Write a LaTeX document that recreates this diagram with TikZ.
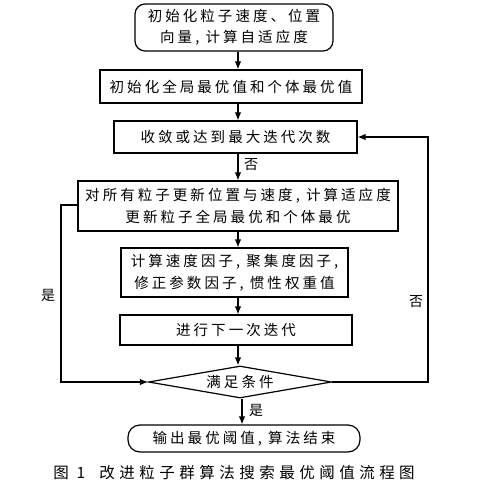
\documentclass[tikz,border=0pt]{standalone}
\usepackage{fontspec}
\setmainfont{Noto Sans CJK SC}[LetterSpace=21]
\newfontfamily\capfont{Noto Sans CJK SC}[LetterSpace=29]
\usetikzlibrary{shapes.geometric,arrows.meta}
\begin{document}
\begin{tikzpicture}[x=1pt,y=-1pt,
  every node/.style={font=\fontsize{14.5pt}{21pt}\selectfont},
  box/.style={draw,line width=1.2pt,align=center,inner sep=0pt},
  rbox/.style={box,rounded corners=10pt},
  arr/.style={line width=1.2pt,-{Latex[length=8pt,width=6.5pt]}},
  lbl/.style={font=\fontsize{14pt}{15pt}\selectfont,inner sep=0pt}]
\useasboundingbox[fill=white] (0,0) rectangle (483,492);
\coordinate (mx) at (238,0);
\node[rbox,minimum width=198pt,minimum height=47pt] (b1) at (234,27.5) {初始化粒子速度、位置\\向量, 计算自适应度};
\node[box,minimum width=262pt,minimum height=33pt] (b2) at (231,86.5) {初始化全局最优值和个体最优值};
\node[box,minimum width=243pt,minimum height=32pt] (b3) at (235.5,137) {收敛或达到最大迭代次数};
\node[box,minimum width=320pt,minimum height=50pt,font=\fontsize{14.5pt}{22pt}\selectfont] (b4) at (238,206) {对所有粒子更新位置与速度, 计算适应度\\更新粒子全局最优和个体最优};
\node[box,minimum width=227pt,minimum height=49pt,font=\fontsize{14.5pt}{22pt}\selectfont] (b5) at (234.5,272.5) {计算速度因子, 聚集度因子,\\修正参数因子, 惯性权重值};
\node[box,minimum width=232pt,minimum height=30pt] (b6) at (236,330) {进行下一次迭代};
\node[draw,line width=1.2pt,diamond,aspect=5.7,inner sep=0pt,minimum width=183pt,minimum height=32pt] (d) at (240,382) {满足条件};
\node[rbox,rounded corners=12pt,minimum width=232pt,minimum height=27pt] (e) at (244,438.5) {输出最优阈值, 算法结束};
\node[font=\capfont\fontsize{15.5pt}{17pt}\selectfont,inner sep=0pt] (cap) at (234,473) {图 1\hspace{14pt}改进粒子群算法搜索最优阈值流程图};
% main arrows
\draw[arr] (b1.south -| mx) -- (b2.north -| mx);
\draw[arr] (b2.south -| mx) -- (b3.north -| mx);
\draw[arr] (b3.south -| mx) -- (b4.north -| mx);
\draw[arr] (b4.south -| mx) -- (b5.north -| mx);
\draw[arr] (b5.south -| mx) -- (b6.north -| mx);
\draw[arr] (b6.south -| mx) -- (d.north -| mx);
\coordinate (mx2) at (242,0);
\draw[arr] (d.south -| mx2) -- (e.north -| mx2);
% loops
\coordinate (lx) at (61,0);
\coordinate (rx) at (428,0);
\coordinate (ly) at (0,205);
\draw[arr] (b4.west |- ly) -- (lx |- ly) -- (lx |- d.west) -- (d.west);
\draw[arr] (d.east) -- (rx |- d.east) -- (rx |- b3.east) -- (b3.east);
% labels
\node[lbl] (n1) at (251,165) {否};
\node[lbl] (y1) at (48,295) {是};
\node[lbl] (n2) at (416,302) {否};
\node[lbl] (y2) at (256,410) {是};
\end{tikzpicture}
\end{document}
